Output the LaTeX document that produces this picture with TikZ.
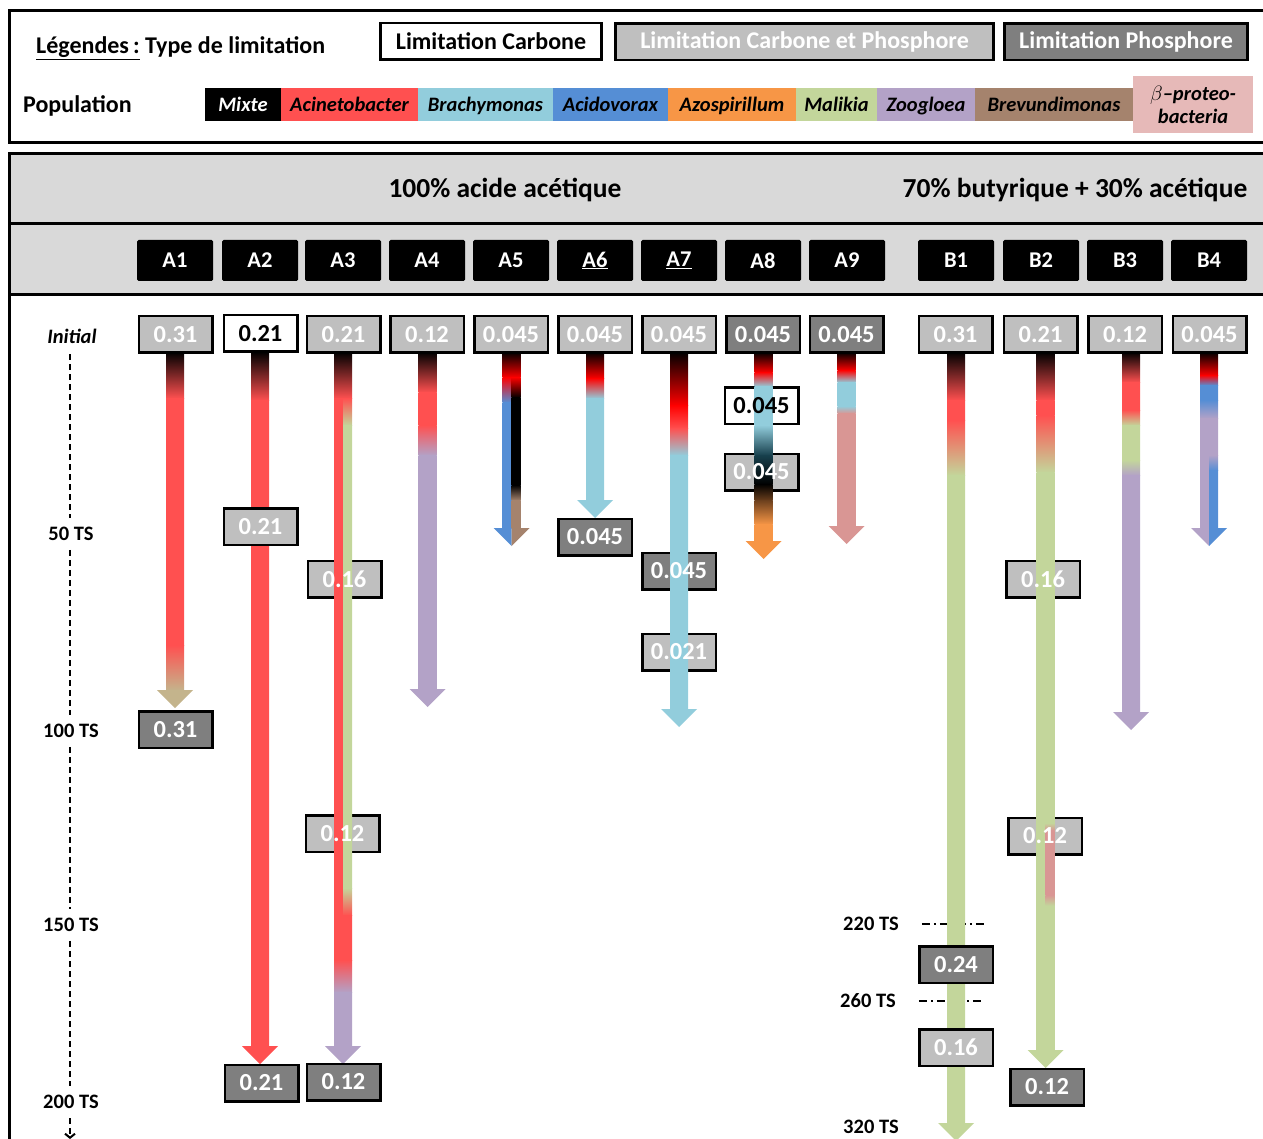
\documentclass[tikz,border=0pt]{standalone}
\usepackage{fontspec}
\setmainfont{Carlito}
\usetikzlibrary{positioning,arrows.meta}

\definecolor{lgray}{HTML}{BFBFBF}
\definecolor{dgray}{HTML}{7F7F7F}
\definecolor{band}{HTML}{D9D9D9}
\definecolor{acineto}{HTML}{FF5050}
\definecolor{brachy}{HTML}{92CDDC}
\definecolor{acido}{HTML}{558ED5}
\definecolor{azo}{HTML}{F79646}
\definecolor{malikia}{HTML}{C3D69B}
\definecolor{zoog}{HTML}{B3A2C7}
\definecolor{brevun}{HTML}{A5836D}
\definecolor{betap}{HTML}{E6B9B8}
\definecolor{betarrow}{HTML}{D99694}
\definecolor{khaki}{HTML}{C4B48C}
\definecolor{darkteal}{HTML}{17404D}
\definecolor{darkbrown}{HTML}{6B3F1D}

% bar pieces: x-left, x-right, y-top, y-bottom, colour top, colour bottom
\newcommand{\barseg}[6]{\shade[top color=#5, bottom color=#6] (#1,#3) rectangle (#2,#4+0.6);}
\newcommand{\fullseg}[5]{\barseg{#1-9}{#1+9}{#2}{#3}{#4}{#5}}
\newcommand{\leftseg}[5]{\barseg{#1-9}{#1}{#2}{#3}{#4}{#5}}
\newcommand{\rightseg}[5]{\barseg{#1}{#1+9}{#2}{#3}{#4}{#5}}
\newcommand{\arrtip}[3]{\fill[#3] (#1-18,#2) -- (#1+18,#2) -- (#1,#2+18) -- cycle;}
\newcommand{\larrtip}[3]{\fill[#3] (#1-18,#2) -- (#1,#2) -- (#1,#2+18) -- cycle;}
\newcommand{\rarrtip}[3]{\fill[#3] (#1,#2) -- (#1+18,#2) -- (#1,#2+18) -- cycle;}

\tikzset{
  numbox/.style={draw=black, line width=2.5pt, minimum width=73.5pt, minimum height=36.5pt, inner sep=0pt, font=\fontsize{24.5}{26}\selectfont\bfseries},
  limC/.style={numbox, fill=white, text=black},
  limCP/.style={numbox, fill=lgray, text=white},
  limP/.style={numbox, fill=dgray, text=white},
  numtxt/.style={inner sep=0pt, font=\fontsize{24.5}{26}\selectfont\bfseries},
  reactor/.style={fill=black, text=white, rounded corners=1.5pt, minimum width=76pt, minimum height=41pt, inner sep=0pt, font=\fontsize{22.5}{24}\selectfont\bfseries},
  popbox/.style={minimum height=33pt, inner sep=0pt, text height=17pt, text depth=2pt, font=\fontsize{20.5}{22}\selectfont\bfseries\itshape},
  legtxt/.style={font=\fontsize{24}{26}\selectfont\bfseries},
  tslabel/.style={inner sep=1pt, font=\fontsize{20.5}{22}\selectfont\bfseries},
  axisline/.style={line width=2pt, dash pattern=on 6pt off 4pt},
  tsline/.style={line width=1.2pt, dash pattern=on 8pt off 4pt on 2pt off 4pt},
  frame/.style={line width=3pt},
}

\begin{document}
\begin{tikzpicture}[x=1pt, y=-1pt]
    \useasboundingbox (0,0) rectangle (1263,1139);
    \clip (0,0) rectangle (1263,1139);

    % legend
    \draw[frame] (9,11) rectangle (1280,143);
    \node[anchor=west, inner sep=0pt, legtxt] (legtitle) at (36,48) {\underline{Légendes\,:}~Type de limitation};
    \node[limC, minimum width=221pt, legtxt] (legC) at (491,41.5) {Limitation Carbone};
    \node[limCP, minimum width=378pt, legtxt] (legCP) at (804.5,42) {Limitation Carbone et Phosphore};
    \node[limP, minimum width=243pt, legtxt] (legP) at (1126,42) {Limitation Phosphore};
    \node[anchor=west, inner sep=0pt, legtxt] (legpop) at (23,106) {Population};
    \node[popbox, fill=black, text=white, minimum width=76pt] (mixte) at (243,104.5) {Mixte};
    \node[popbox, fill=acineto, minimum width=137pt] (acinetobacter) at (349.5,104.5) {Acinetobacter};
    \node[popbox, fill=brachy, minimum width=135pt] (brachymonas) at (485.5,104.5) {Brachymonas};
    \node[popbox, fill=acido, minimum width=115pt] (acidovorax) at (610.5,104.5) {Acidovorax};
    \node[popbox, fill=azo, minimum width=128pt] (azospirillum) at (732,104.5) {Azospirillum};
    \node[popbox, fill=malikia, minimum width=81pt] (malikia) at (836.5,104.5) {Malikia};
    \node[popbox, fill=zoog, minimum width=98pt] (zoogloea) at (926,104.5) {Zoogloea};
    \node[popbox, fill=brevun, minimum width=158pt] (brevundimonas) at (1054,104.5) {Brevundimonas};
    \node[fill=betap, minimum width=120pt, minimum height=57pt, inner sep=0pt, align=center, font=\fontsize{20.5}{23}\selectfont\bfseries\itshape] (betaproteo) at (1193,104.5) {$\beta$–proteo-\\bacteria};

    % main frame and header bands
    \fill[band] (9,154) rectangle (1280,295);
    \draw[frame] (9,1160) -- (9,154) -- (1280,154);
    \draw[frame] (9,224) -- (1280,224);
    \draw[frame] (9,295) -- (1280,295);
    \node[font=\fontsize{27.5}{29}\selectfont\bfseries] (acetique) at (505,190) {100\% acide acétique};
    \node[font=\fontsize{27.5}{29}\selectfont\bfseries] (butyrique) at (1075,190) {70\% butyrique + 30\% acétique};

    \node[reactor] (hA1) at (175,260.5) {A1};
    \node[reactor] (hA2) at (260,260.5) {A2};
    \node[reactor] (hA3) at (343,260.5) {A3};
    \node[reactor] (hA4) at (427,260.5) {A4};
    \node[reactor] (hA5) at (511,260.5) {A5};
    \node[reactor] (hA6) at (595,260.5) {\underline{A6}};
    \node[reactor] (hA7) at (679,260.5) {\underline{A7}};
    \node[reactor] (hA8) at (763,260.5) {A8};
    \node[reactor] (hA9) at (847,260.5) {A9};
    \node[reactor] (hB1) at (956,260.5) {B1};
    \node[reactor] (hB2) at (1041,260.5) {B2};
    \node[reactor] (hB3) at (1125,260.5) {B3};
    \node[reactor] (hB4) at (1209,260.5) {B4};

    % time axis
    \node[tslabel, font=\fontsize{20.5}{22}\selectfont\bfseries\itshape] (tini) at (72,336) {Initial};
    \node[tslabel] (t50) at (71,534) {50 TS};
    \node[tslabel] (t100) at (71,731) {100 TS};
    \node[tslabel] (t150) at (71,925) {150 TS};
    \node[tslabel] (t200) at (71,1102) {200 TS};
    \coordinate (tend) at (70,1139);
    \draw[axisline, shorten <=10pt, shorten >=8pt] (tini.south -| tend) -- (t50.north -| tend);
    \draw[axisline, shorten <=8pt, shorten >=8pt] (t50.south -| tend) -- (t100.north -| tend);
    \draw[axisline, shorten <=8pt, shorten >=8pt] (t100.south -| tend) -- (t150.north -| tend);
    \draw[axisline, shorten <=8pt, shorten >=8pt] (t150.south -| tend) -- (t200.north -| tend);
    \draw[axisline, shorten <=8pt, -{Straight Barb[length=4pt, width=10pt]}] (t200.south -| tend) -- (tend);

    \node[tslabel] (t220) at (871,924) {220 TS};
    \node[tslabel] (t260) at (868,1001) {260 TS};
    \node[tslabel] (t320) at (871,1127) {320 TS};
    \draw[tsline] ([xshift=22pt]t220.east) -- ++(62,0);
    \draw[tsline] ([xshift=22pt]t260.east) -- ++(62,0);

    % boxes lying under the bars
    \node[limCP] (mA3a) at (344.5,579) {};
    \node[limCP] (mA3b) at (342.5,833.5) {};
    \node[limP] (mA7a) at (679,571) {};
    \node[limCP] (mA7b) at (679,652) {};
    \node[limC] (mA8a) at (761.5,405.5) {};
    \node[limCP] (mA8b) at (761.5,472) {};
    \node[limCP] (mB2a) at (1043,579) {};
    \node[limCP] (mB2b) at (1045,836) {};

    % A1
    \fullseg{175}{352}{398}{black}{acineto}
    \fullseg{175}{398}{645}{acineto}{acineto}
    \fullseg{175}{645}{690}{acineto}{khaki}
    \arrtip{175}{690}{khaki}
    % A2
    \fullseg{260}{352}{400}{black}{acineto}
    \fullseg{260}{400}{1046}{acineto}{acineto}
    \arrtip{260}{1046}{acineto}
    % A3
    \fullseg{343}{352}{398}{black}{acineto}
    \leftseg{343}{398}{915}{acineto}{acineto}
    \rightseg{343}{398}{425}{acineto}{malikia}
    \rightseg{343}{425}{888}{malikia}{malikia}
    \rightseg{343}{888}{915}{malikia}{acineto}
    \fullseg{343}{915}{960}{acineto}{acineto}
    \fullseg{343}{960}{992}{acineto}{zoog}
    \fullseg{343}{992}{1046}{zoog}{zoog}
    \arrtip{343}{1046}{zoog}
    % A4
    \fullseg{427.5}{352}{392}{black}{acineto}
    \fullseg{427.5}{392}{425}{acineto}{acineto}
    \fullseg{427.5}{425}{455}{acineto}{zoog}
    \fullseg{427.5}{455}{689}{zoog}{zoog}
    \arrtip{427.5}{689}{zoog}
    % A5
    \fullseg{511.5}{352}{377}{black}{red}
    \leftseg{511.5}{377}{402}{red}{acido}
    \rightseg{511.5}{377}{397}{red}{black}
    \leftseg{511.5}{402}{528}{acido}{acido}
    \rightseg{511.5}{397}{485}{black}{black}
    \rightseg{511.5}{485}{500}{black}{brevun}
    \rightseg{511.5}{500}{528}{brevun}{brevun}
    \larrtip{511.5}{528}{acido}
    \rarrtip{511.5}{528}{brevun}
    % A6
    \fullseg{595}{352}{378}{black}{red}
    \fullseg{595}{378}{398}{red}{brachy}
    \fullseg{595}{398}{500}{brachy}{brachy}
    \arrtip{595}{500}{brachy}
    % A7
    \fullseg{679}{352}{405}{black}{red}
    \fullseg{679}{405}{428}{red}{acineto}
    \fullseg{679}{428}{455}{acineto}{brachy}
    \fullseg{679}{455}{709}{brachy}{brachy}
    \arrtip{679}{709}{brachy}
    % A8
    \fullseg{763.5}{352}{372}{black}{red}
    \fullseg{763.5}{372}{386}{red}{brachy}
    \fullseg{763.5}{386}{425}{brachy}{brachy}
    \fullseg{763.5}{425}{455}{brachy}{darkteal}
    \fullseg{763.5}{455}{484}{darkteal}{black}
    \fullseg{763.5}{484}{500}{black}{darkbrown}
    \fullseg{763.5}{500}{524}{darkbrown}{azo}
    \fullseg{763.5}{524}{541}{azo}{azo}
    \arrtip{763.5}{541}{azo}
    % A9
    \fullseg{846.5}{352}{370}{black}{red}
    \fullseg{846.5}{370}{382}{red}{brachy}
    \fullseg{846.5}{382}{406}{brachy}{brachy}
    \fullseg{846.5}{406}{413}{brachy}{betarrow}
    \fullseg{846.5}{413}{526}{betarrow}{betarrow}
    \arrtip{846.5}{526}{betarrow}
    % B1
    \fullseg{956}{352}{400}{black}{acineto}
    \fullseg{956}{400}{420}{acineto}{acineto}
    \fullseg{956}{420}{475}{acineto}{malikia}
    \fullseg{956}{475}{1123}{malikia}{malikia}
    \arrtip{956}{1123}{malikia}
    % B2
    \fullseg{1045.5}{352}{400}{black}{acineto}
    \fullseg{1045.5}{400}{415}{acineto}{acineto}
    \fullseg{1045.5}{415}{472}{acineto}{malikia}
    \fullseg{1045.5}{472}{1050}{malikia}{malikia}
    \rightseg{1045.5}{823}{830}{malikia}{betarrow}
    \rightseg{1045.5}{830}{895}{betarrow}{betarrow}
    \rightseg{1045.5}{895}{905}{betarrow}{malikia}
    \arrtip{1045.5}{1050}{malikia}
    % B3
    \fullseg{1131}{352}{382}{black}{acineto}
    \fullseg{1131}{382}{410}{acineto}{acineto}
    \fullseg{1131}{410}{425}{acineto}{malikia}
    \fullseg{1131}{425}{460}{malikia}{malikia}
    \fullseg{1131}{460}{475}{malikia}{zoog}
    \fullseg{1131}{475}{712}{zoog}{zoog}
    \arrtip{1131}{712}{zoog}
    % B4
    \fullseg{1209}{352}{375}{black}{red}
    \fullseg{1209}{375}{385}{red}{acido}
    \fullseg{1209}{385}{400}{acido}{acido}
    \fullseg{1209}{400}{418}{acido}{zoog}
    \leftseg{1209}{418}{528}{zoog}{zoog}
    \rightseg{1209}{418}{455}{zoog}{zoog}
    \rightseg{1209}{455}{470}{zoog}{acido}
    \rightseg{1209}{470}{528}{acido}{acido}
    \larrtip{1209}{528}{zoog}
    \rarrtip{1209}{528}{acido}

    % labels of the boxes under the bars
    \node[numtxt, text=white] (mA3at) at (mA3a) {0.16};
    \node[numtxt, text=white] (mA3bt) at (mA3b) {0.12};
    \node[numtxt, text=white] (mA7at) at (mA7a) {0.045};
    \node[numtxt, text=white] (mA7bt) at (mA7b) {0.021};
    \node[numtxt, text=black] (mA8at) at (mA8a) {0.045};
    \node[numtxt, text=white] (mA8bt) at (mA8b) {0.045};
    \node[numtxt, text=white] (mB2at) at (mB2a) {0.16};
    \node[numtxt, text=white] (mB2bt) at (mB2b) {0.12};

    % initial values
    \node[limCP] (iA1) at (175.5,334.5) {0.31};
    \node[limC] (iA2) at (260.5,333.5) {0.21};
    \node[limCP] (iA3) at (343.5,334.5) {0.21};
    \node[limCP] (iA4) at (427,334.5) {0.12};
    \node[limCP] (iA5) at (511,334.5) {0.045};
    \node[limCP] (iA6) at (595,334.5) {0.045};
    \node[limCP] (iA7) at (679,334.5) {0.045};
    \node[limP] (iA8) at (763,334.5) {0.045};
    \node[limP] (iA9) at (846.5,334.5) {0.045};
    \node[limCP] (iB1) at (955.5,334.5) {0.31};
    \node[limCP] (iB2) at (1040.5,334.5) {0.21};
    \node[limCP] (iB3) at (1125,334.5) {0.12};
    \node[limCP] (iB4) at (1209.5,334.5) {0.045};

    % boxes over the bars
    \node[limCP] (mA2) at (260.5,526.5) {0.21};
    \node[limP] (mB1a) at (956,964.5) {0.24};
    \node[limCP] (mB1b) at (956,1047.5) {0.16};
    \node[limP] (fA1) at (175.5,729.5) {0.31};
    \node[limP] (fA2) at (261.5,1083) {0.21};
    \node[limP] (fA3) at (343.5,1082) {0.12};
    \node[limP] (fA6) at (595,537) {0.045};
    \node[limP] (fB2) at (1047,1087) {0.12};

\end{tikzpicture}
\end{document}
